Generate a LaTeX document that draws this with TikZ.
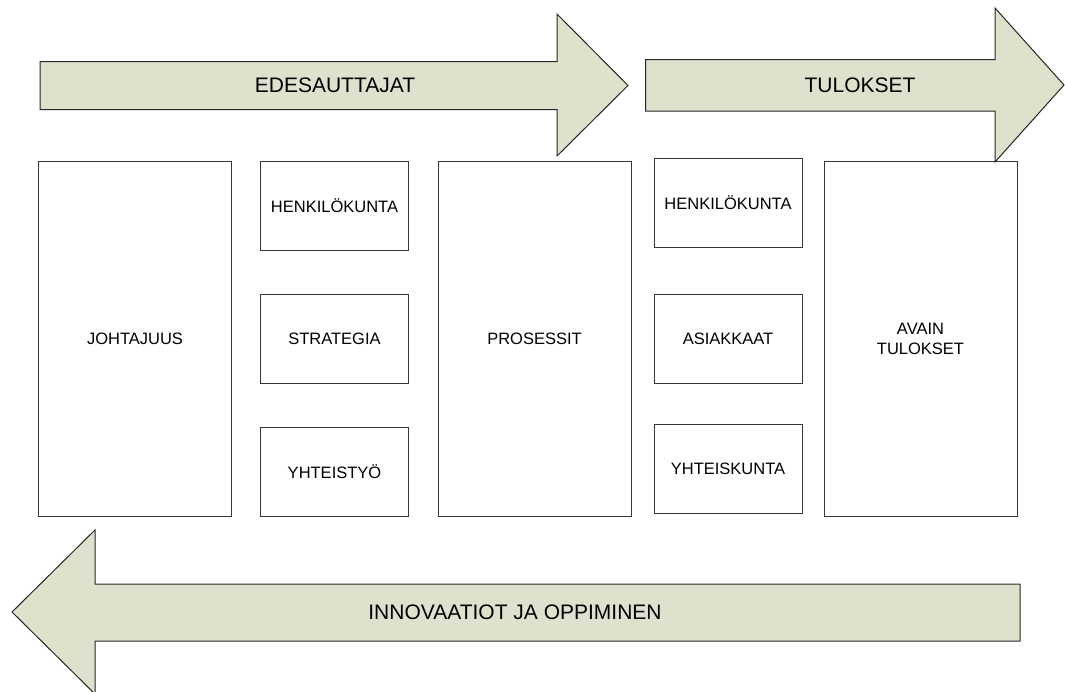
\documentclass[tikz,border=0pt]{standalone}
\usepackage{fontspec}
\setmainfont{Liberation Sans}
\definecolor{arrowfill}{RGB}{221,226,204}
\definecolor{boxline}{RGB}{55,55,55}
\begin{document}
\begin{tikzpicture}[x=1pt,y=-1pt,
  box/.style={draw=boxline, line width=1pt, fill=white, inner sep=0pt, align=center,
              font=\fontsize{16.5}{20}\selectfont},
  tallbox/.style={box, minimum width=193pt, minimum height=355pt},
  smallbox/.style={box, minimum width=148pt, minimum height=89pt},
  bigarrow/.style={draw=black!85, line width=1pt, fill=arrowfill, line join=miter},
  arrowlabel/.style={inner sep=0pt, font=\fontsize{21}{25}\selectfont}]
\useasboundingbox (0,0) rectangle (1065,691);
% boxes
\node[tallbox]  (johtajuus) at (135,338.5) {JOHTAJUUS};
\node[smallbox] (henk1)     at (334.5,205.5) {HENKILÖKUNTA};
\node[smallbox] (strategia) at (334.5,338.5) {STRATEGIA};
\node[smallbox] (yhteistyo) at (334.5,471.5) {YHTEISTYÖ};
\node[tallbox]  (prosessit) at (534.5,338.5) {PROSESSIT};
\node[smallbox] (henk2)     at (728,202.5) {HENKILÖKUNTA};
\node[smallbox] (asiakkaat) at (728,338.5) {ASIAKKAAT};
\node[smallbox] (yhteiskunta) at (728,468.5) {YHTEISKUNTA};
\node[tallbox]  (avain)     at (920.5,338.5) {AVAIN\\TULOKSET};
% arrows
\draw[bigarrow] (40,61.5) -- (557,61.5) -- (557,14) -- (628,85.5) -- (557,156) -- (557,109.5) -- (40,109.5) -- cycle;
\node[arrowlabel] (edes) at (335,85) {EDESAUTTAJAT};
\draw[bigarrow] (645.5,59.5) -- (995,59.5) -- (995,8) -- (1064,85) -- (995,162) -- (995,111) -- (645.5,111) -- cycle;
\node[arrowlabel] (tulokset) at (860,85) {TULOKSET};
\draw[bigarrow] (1020,584) -- (95,584) -- (95,530) -- (12,612) -- (95,694) -- (95,641) -- (1020,641) -- cycle;
\node[arrowlabel] (innov) at (515,612) {INNOVAATIOT JA OPPIMINEN};
\end{tikzpicture}
\end{document}
